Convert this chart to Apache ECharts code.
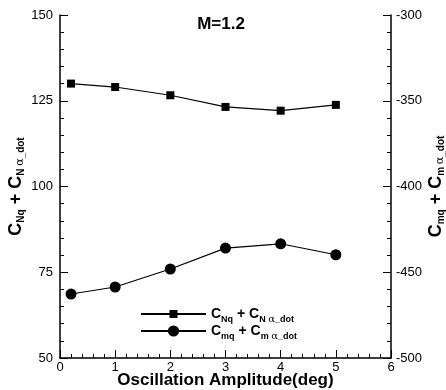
<!DOCTYPE html>
<html>
<head>
<meta charset="utf-8">
<script src="https://cdn.jsdelivr.net/npm/echarts@6/dist/echarts.min.js"></script>
<style>html,body{margin:0;padding:0;background:#fff}#c{width:446px;height:390px}</style>
</head>
<body>
<div id="c"></div>
<script>
var amplitude = [0.2, 1, 2, 3, 4, 5];
var cnqSum = [130, 129, 126.6, 123.2, 122.1, 123.8];
var cmqSum = [-462.7, -458.6, -448.1, -435.9, -433.4, -439.8];
var titleText = 'M=1.2';
var xName = 'Oscillation Amplitude(deg)';

var FONT = '"Liberation Sans", Arial, sans-serif';
function mkRich(big, sub) {
  return {
    m: {fontSize: big, fontWeight: 'bold', fontFamily: FONT, color: '#000', lineHeight: 20},
    s: {fontSize: sub, fontWeight: 'bold', fontFamily: FONT, color: '#000', verticalAlign: 'bottom', lineHeight: 13},
    g: {fontSize: sub + 1, fontFamily: '"DejaVu Serif", serif', color: '#000', verticalAlign: 'bottom', lineHeight: 13}
  };
}
var nameN = '{m|C}{s|Nq}{m| + C}{s|N }{g|α}{s|_dot}';
var nameM = '{m|C}{s|mq}{m| + C}{s|m }{g|α}{s|_dot}';

function pts(ys) { return amplitude.map(function (x, i) { return [x, ys[i]]; }); }

var axisCommon = {
  axisLine: {show: true, lineStyle: {color: '#000', width: 1.5}},
  axisTick: {show: true, inside: true, length: 8, lineStyle: {color: '#000', width: 1}},
  minorTick: {show: true, splitNumber: 5, length: 4, lineStyle: {color: '#000', width: 1}},
  splitLine: {show: false},
  nameMoveOverlap: false,
  axisLabel: {color: '#000', fontSize: 13, fontFamily: FONT}
};

var chart = echarts.init(document.getElementById('c'), null, {renderer: 'canvas'});
chart.setOption({
  animation: false,
  backgroundColor: '#fff',
  title: {
    text: titleText, left: 216, top: 11, textAlign: 'center',
    textStyle: {fontSize: 17, fontWeight: 'bold', fontFamily: FONT, color: '#000'}
  },
  grid: {left: 60, right: 55, top: 15, bottom: 32, containLabel: false, outerBoundsMode: 'none'},
  xAxis: Object.assign({}, axisCommon, {
    type: 'value', min: 0, max: 6, interval: 1,
    name: xName, nameLocation: 'middle', nameGap: 14,
    nameTextStyle: {fontSize: 17, fontWeight: 'bold', fontFamily: FONT, color: '#000'},
    axisLabel: Object.assign({}, axisCommon.axisLabel, {margin: 3})
  }),
  yAxis: [
    Object.assign({}, axisCommon, {
      type: 'value', min: 50, max: 150, interval: 25, position: 'left',
      name: nameN, nameLocation: 'middle', nameGap: 34,
      nameTextStyle: {rich: mkRich(18, 10)},
      axisLabel: Object.assign({}, axisCommon.axisLabel, {margin: 7})
    }),
    Object.assign({}, axisCommon, {
      type: 'value', min: -500, max: -300, interval: 50, position: 'right',
      name: nameM, nameLocation: 'middle', nameGap: 35,
      nameTextStyle: {rich: mkRich(18, 10)},
      axisLabel: Object.assign({}, axisCommon.axisLabel, {margin: 5})
    })
  ],
  legend: [
    {
      data: ['cnq'], left: 135, top: 302, itemWidth: 65, itemHeight: 10, itemGap: 0,
      formatter: function () { return nameN; }, textStyle: {rich: mkRich(14, 9)}
    },
    {
      data: ['cmq'], left: 135, top: 319, itemWidth: 65, itemHeight: 14, itemGap: 0,
      formatter: function () { return nameM; }, textStyle: {rich: mkRich(14, 9)}
    }
  ],
  series: [
    {
      name: 'cnq', type: 'line', yAxisIndex: 0, data: pts(cnqSum),
      symbol: 'rect', symbolSize: 8, showAllSymbol: true,
      lineStyle: {color: '#000', width: 1.2}, itemStyle: {color: '#000'}
    },
    {
      name: 'cmq', type: 'line', yAxisIndex: 1, data: pts(cmqSum),
      symbol: 'circle', symbolSize: 11, showAllSymbol: true,
      lineStyle: {color: '#000', width: 1.2}, itemStyle: {color: '#000'}
    }
  ]
});
</script>
</body>
</html>
